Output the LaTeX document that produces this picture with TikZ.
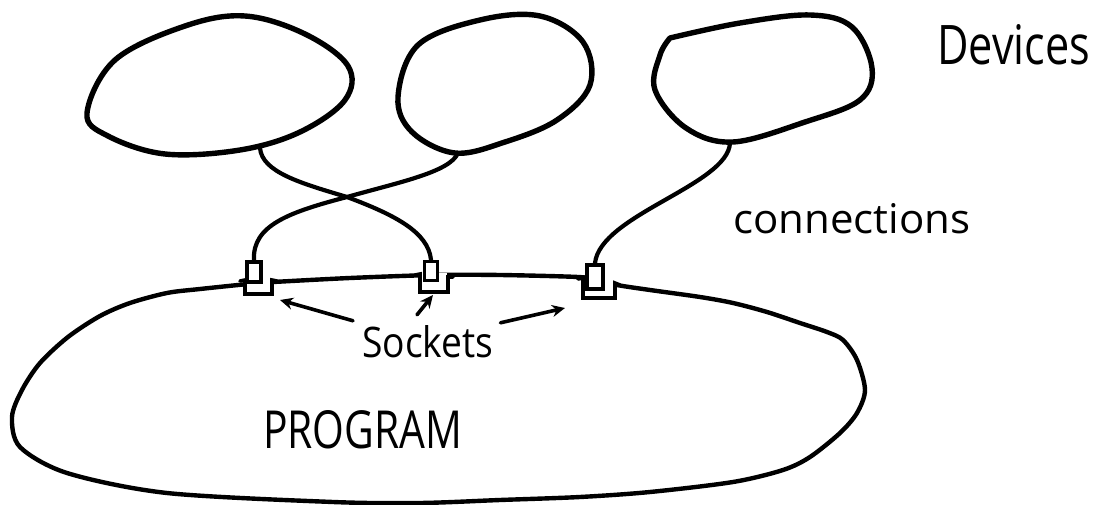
\documentclass[tikz,border=0pt]{standalone}
\usepackage{fontspec}
\setmainfont{Open Sans}
\usetikzlibrary{arrows.meta}

\begin{document}
\begin{tikzpicture}[x=1pt,y=-1pt,
  blob/.style={line width=5.4pt, line join=round, line cap=round},
  outline/.style={line width=4.4pt, line join=round},
  wire/.style={line width=4.2pt, line cap=round},
  plug/.style={draw, line width=3.6pt, fill=white, inner sep=0pt},
  cup/.style={line width=3.6pt, line join=miter, line cap=round},
  pointer/.style={line width=3.6pt, line cap=round, -{Stealth[length=13pt,width=12pt]}},
  handtext/.style={inner sep=0pt, anchor=base west},
]
\useasboundingbox (0,0) rectangle (1096,505);

% devices
\draw[blob] plot[smooth cycle, tension=0.6] coordinates {
  (87,113) (115,60) (185,26) (245,16) (305,34) (348,66) (345,100)
  (300,132) (240,150) (165,154) (108,136)};
\draw[blob] plot[smooth cycle, tension=0.6] coordinates {
  (398,97) (418,45) (480,20) (540,16) (583,42) (590,85) (557,120)
  (505,142) (455,153) (412,132)};
\draw[blob] plot[smooth, tension=0.6] coordinates {
  (670,38) (740,23) (810,15) (852,27) (872,68) (860,100) (805,122)
  (733,142) (686,128) (655,90) (660,55) (670,38)};

% program
\draw[outline] plot[smooth cycle] coordinates {
  (258,283) (200,289) (167,293) (130,303) (100,316) (68,337) (40,363)
  (22,390) (12,417) (20,447) (67,473) (167,493) (333,502) (420,503)
  (500,500) (580,497) (650,492) (733,482) (783,470) (810,457) (840,433)
  (857,413) (865,390) (857,360) (843,340) (827,332) (800,323) (767,312)
  (733,303) (700,297) (650,290) (617,285) (599,280) (578,277) (500,275)
  (434,275) (350,278) (273,282)};

% sockets: cup, then the plug sitting in it
\fill[white] (246,279) rectangle (271,293);
\draw[cup] (240,281) -- (245,280) -- (245,294) -- (272,294) -- (272,280) -- (277,281);
\node[plug, minimum width=14pt, minimum height=20pt] (s1) at (254,272) {};

\fill[white] (421,273) rectangle (447,291);
\draw[cup] (415,275) -- (420,274) -- (420,292) -- (448,292) -- (448,277) -- (453,277);
\node[plug, minimum width=13pt, minimum height=19pt] (s2) at (431,271) {};

\fill[white] (584,278) rectangle (614,297);
\draw[cup] (578,279) -- (583,278) -- (583,298) -- (615,298) -- (615,283) -- (620,285);
\node[plug, minimum width=16pt, minimum height=24pt] (s3) at (595,277) {};

% connection ends on the devices
\coordinate (d1) at (260,148);
\coordinate (d2) at (458,153);
\coordinate (d3) at (730,143);
\coordinate (cross) at (347,197);

% connections
\draw[wire] (d1) .. controls (262,172) and (300,183) .. (cross)
  .. controls (395,215) and (428,232) .. (s2.north);
\draw[wire] (d2) .. controls (450,172) and (400,182) .. (cross)
  .. controls (290,212) and (252,225) .. (s1.north);
\draw[wire] (d3) .. controls (728,185) and (600,215) .. (s3.north);

% labels
\node[handtext] (devices) at (937,65) {\resizebox{153pt}{40pt}{Devices}};
\node[handtext] (conn) at (733,234) {\resizebox{237pt}{30pt}{connections}};
\node[handtext] (sockets) at (362,357) {\resizebox{131pt}{32pt}{Sockets}};
\node[handtext] (program) at (263,448) {\resizebox{199pt}{38pt}{PROGRAM}};

% pointers from the label to the sockets
\coordinate (p1) at (280,300);
\coordinate (p2) at (433,295);
\coordinate (p3) at (565,308);
\draw[pointer] (sockets.north west) ++(-9,-4) coordinate (t1) -- (p1);
\draw[pointer] (sockets.north west) ++(55,-10) coordinate (t2) -- (p2);
\draw[pointer] (sockets.north east) ++(7,-2) coordinate (t3) -- (p3);
\end{tikzpicture}
\end{document}
